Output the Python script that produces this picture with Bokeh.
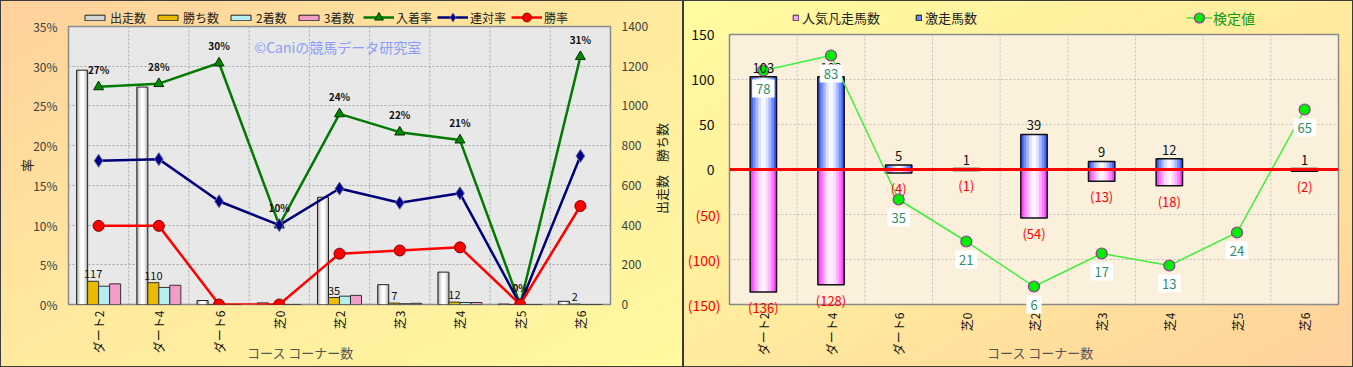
import math
from bokeh.plotting import figure
from bokeh.layouts import row, column
from bokeh.models import (Range1d, FactorRange, LinearAxis, FixedTicker, PrintfTickFormatter,
                          CustomJSTickFormatter, Legend, LegendItem, Label, LabelSet,
                          ColumnDataSource, Span, Plot, Text)
from bokeh.transform import dodge
from bokeh.core.properties import value
from bokeh.embed import file_html
from bokeh.resources import INLINE

FONT = "Noto Sans CJK JP"
HAS_FA = "frame_align" in Plot.properties()
TEXT_PROPS = Text.properties()
TEXT_BOX = "padding" in TEXT_PROPS and "background_fill_color" in TEXT_PROPS
W1, W2, H = 683, 670, 367

# ---------------- data ----------------
categories = ["ダート2", "ダート4", "ダート6", "芝0", "芝2", "芝3", "芝4", "芝5", "芝6"]

# left chart (counts on right axis, rates in %)
starts = [1180, 1095, 20, 8, 540, 100, 163, 2, 16]
wins = [117, 110, 0, 0, 35, 7, 12, 0, 2]
seconds = [92, 86, 0, 0, 42, 4, 10, 0, 0]
thirds = [104, 97, 0, 0, 46, 6, 10, 0, 0]
place_rate = [27.4, 27.8, 30.4, 10.0, 24.0, 21.7, 20.7, 0.0, 31.2]
rentai_rate = [18.1, 18.3, 13.0, 10.0, 14.6, 12.8, 14.0, 0.0, 18.7]
win_rate = [9.9, 9.9, 0.0, 0.0, 6.4, 6.8, 7.2, 0.0, 12.4]
rate_ticks = [0, 5, 10, 15, 20, 25, 30, 35]
count_ticks = [0, 200, 400, 600, 800, 1000, 1200, 1400]

# right chart
hot_horses = [103, 103, 5, 1, 39, 9, 12, 0, 1]
flop_horses = [-136, -128, -4, -1, -54, -13, -18, 0, -2]
kentei = [78, 83, 35, 21, 6, 17, 13, 24, 65]
pos_ticks = [0, 50, 100, 150]
neg_ticks = [-50, -100, -150]
grid_ticks = [-150, -100, -50, 0, 50, 100, 150]
Y2 = (-150, 150)   # main scale of the right chart
K2 = (0, 90)       # hidden scale of 検定値

# styles
C_START, C_WIN, C_SEC, C_THR = "#a0a0a0", "#eabb00", "#b4eef0", "#f29cc8"
C_PLACE, C_RENTAI, C_WRATE = "#007a00", "#00007a", "#ff0000"
M2L, M2R, M2T, M2B = 46, 15, 34, 63   # right chart borders


def no_align(f):
    if HAS_FA:
        f.frame_align = False


def clean_axis(ax, standoff, size="12px", color="#404040"):
    ax.axis_line_color = None
    ax.major_tick_line_color = None
    ax.minor_tick_line_color = None
    ax.major_tick_out = 0
    ax.minor_tick_out = 0
    ax.major_label_standoff = standoff
    ax.major_label_text_font = FONT
    ax.major_label_text_font_size = size
    ax.major_label_text_color = color
    ax.axis_label_text_font = FONT
    ax.axis_label_text_font_style = "normal"
    ax.axis_label_text_font_size = "13px"


def overlay_fig(width, height, on_top=False, x_range=None, y_range=None):
    f = figure(width=width, height=height, x_range=x_range or Range1d(0, 1),
               y_range=y_range or Range1d(0, 1),
               output_backend="svg", toolbar_location=None, min_border=0,
               x_axis_location=None, y_axis_location=None,
               border_fill_alpha=0, background_fill_alpha=0, outline_line_color=None)
    f.grid.visible = False
    f.styles = {("margin-top" if on_top else "margin-bottom"): "-%dpx" % height}
    no_align(f)
    return f


def legend(items, loc, gw, gh, fs, color="#222222", spacing=9, standoff=3):
    return Legend(items=items, orientation="horizontal", location=loc, glyph_width=gw,
                  glyph_height=gh, label_height=12, label_standoff=standoff, spacing=spacing,
                  padding=0, margin=0, label_text_font=FONT, label_text_font_size=fs,
                  label_text_color=color, border_line_alpha=0, background_fill_alpha=0)


OUT = dict(x=[-50], y=[-500])          # legend-only renderers: one point outside the view
OUT_L = dict(x=[-50, -40], y=[-500, -500])

# ---------------- left chart ----------------
src1 = ColumnDataSource(dict(
    cat=categories, starts=starts, wins=wins, seconds=seconds, thirds=thirds,
    place=place_rate, rentai=rentai_rate, win=win_rate,
    win_lbl=[str(w) if w > 0 else "" for w in wins],
    place_lbl=["%d%%" % round(v) for v in place_rate],
))

p1 = figure(width=W1, height=H, x_range=FactorRange(factors=categories),
            y_range=Range1d(0, 35), output_backend="svg", toolbar_location=None,
            min_border_left=68, min_border_right=73, min_border_top=26, min_border_bottom=63,
            border_fill_alpha=0, background_fill_color="#e8e8e8",
            outline_line_color="#8a8a8a", outline_line_width=1.5)
no_align(p1)
p1.extra_y_ranges = {"count": Range1d(0, 1400)}

p1.xgrid.visible = False
p1.ygrid.ticker = FixedTicker(ticks=rate_ticks)
p1.ygrid.grid_line_color = "#a9a9a9"
p1.ygrid.grid_line_dash = "2 2"
for i in range(1, len(categories)):
    p1.add_layout(Span(location=i, dimension="height", line_color="#a9a9a9",
                       line_dash="2 2", line_width=1, level="underlay"))

p1.yaxis.ticker = FixedTicker(ticks=rate_ticks)
p1.yaxis.formatter = PrintfTickFormatter(format="%d%%")
clean_axis(p1.yaxis[0], 11)
p1.yaxis.axis_label = "率"
p1.yaxis.axis_label_standoff = -6
p1.yaxis.axis_label_text_color = "#222222"

ax_r = LinearAxis(y_range_name="count", ticker=FixedTicker(ticks=count_ticks))
p1.add_layout(ax_r, "right")
clean_axis(ax_r, 11)

clean_axis(p1.xaxis[0], 6, color="#111111")
p1.xaxis.major_label_orientation = math.pi / 2
p1.xaxis.axis_label = "コース コーナー数" + "\u3000" * 6
p1.xaxis.axis_label_standoff = -13
p1.xaxis.axis_label_text_color = "#555555"

bw = 0.183
x0 = dodge("cat", -0.274, range=p1.x_range)
p1.vbar(x=x0, top="starts", width=bw, bottom=0, source=src1, y_range_name="count",
        fill_color=C_START, line_color=None)
for w, c in zip([0.15, 0.115, 0.08, 0.045], ["#c8c8c8", "#e2e2e2", "#f4f4f4", "#ffffff"]):
    p1.vbar(x=x0, top="starts", width=w, bottom=0, source=src1, y_range_name="count",
            fill_color=c, line_color=None)
p1.vbar(x=x0, top="starts", width=bw, bottom=0, source=src1, y_range_name="count",
        fill_alpha=0, line_color="#222222", line_width=1)

p1.vbar(x=dodge("cat", -0.091, range=p1.x_range), top="wins", width=bw, source=src1,
        y_range_name="count", fill_color=C_WIN, line_color="#333333", line_width=1)
p1.vbar(x=dodge("cat", 0.091, range=p1.x_range), top="seconds", width=bw, source=src1,
        y_range_name="count", fill_color=C_SEC, line_color="#333333", line_width=1)
p1.vbar(x=dodge("cat", 0.274, range=p1.x_range), top="thirds", width=bw, source=src1,
        y_range_name="count", fill_color=C_THR, line_color="#333333", line_width=1)

p1.line(x="cat", y="place", source=src1, line_color=C_PLACE, line_width=2.5)
p1.scatter(x="cat", y="place", source=src1, marker="triangle", size=10,
           fill_color="#008a00", line_color="#003300", line_width=1)
p1.line(x="cat", y="rentai", source=src1, line_color=C_RENTAI, line_width=2.5)
p1.scatter(x="cat", y="rentai", source=src1, marker="diamond", size=13,
           fill_color="#00008a", line_color="#6a6aa0", line_width=1)
p1.line(x="cat", y="win", source=src1, line_color=C_WRATE, line_width=2.5)
p1.scatter(x="cat", y="win", source=src1, marker="circle", size=11,
           fill_color="#ff0000", line_color="#800000", line_width=1)

p1.add_layout(LabelSet(x=dodge("cat", -0.091, range=p1.x_range), y="wins", text="win_lbl",
                       source=src1, y_range_name="count", y_offset=3, text_align="center",
                       text_baseline="bottom", text_font=value(FONT), text_font_size="11px",
                       text_color="#111111"))
p1.add_layout(LabelSet(x="cat", y="place", text="place_lbl", source=src1, y_offset=10,
                       text_align="center", text_baseline="bottom", text_font=value(FONT),
                       text_font_size="10px", text_font_style="bold", text_color="#111111"))

p1.add_layout(Label(x=186, y=258, x_units="screen", y_units="screen", text="©Caniの競馬データ研究室",
                    text_font=FONT, text_font_size="14px", text_color="#8c9cf8",
                    text_baseline="middle"))

# transparent full-size strip under the left chart: legend row and right-axis title
lf1 = overlay_fig(W1, H)
ox1 = 0 if HAS_FA else 68
lr_start = lf1.vbar(x=[-50], top=[-500], width=0.1, fill_color="#d4d4d4", line_color="#222222")
lr_win = lf1.vbar(x=[-50], top=[-500], width=0.1, fill_color=C_WIN, line_color="#222222")
lr_sec = lf1.vbar(x=[-50], top=[-500], width=0.1, fill_color=C_SEC, line_color="#222222")
lr_thr = lf1.vbar(x=[-50], top=[-500], width=0.1, fill_color=C_THR, line_color="#222222")
lr_pl = [lf1.line(line_color=C_PLACE, line_width=2.5, **OUT_L),
         lf1.scatter(marker="triangle", fill_color="#008a00", line_color="#003300", **OUT)]
lr_rt = [lf1.line(line_color=C_RENTAI, line_width=2.5, **OUT_L),
         lf1.scatter(marker="diamond", fill_color="#00008a", line_color="#6a6aa0", **OUT)]
lr_wr = [lf1.line(line_color=C_WRATE, line_width=2.5, **OUT_L),
         lf1.scatter(marker="circle", fill_color="#ff0000", line_color="#800000", **OUT)]
lf1.add_layout(legend([LegendItem(label="出走数", renderers=[lr_start]),
                       LegendItem(label="勝ち数", renderers=[lr_win]),
                       LegendItem(label="2着数", renderers=[lr_sec]),
                       LegendItem(label="3着数", renderers=[lr_thr])],
                      (82 - ox1, H - 26), 25, 7, "12px"))
lf1.add_layout(legend([LegendItem(label="入着率", renderers=lr_pl),
                       LegendItem(label="連対率", renderers=lr_rt),
                       LegendItem(label="勝率", renderers=lr_wr)],
                      (363 - ox1, H - 28), 31, 22, "12px", spacing=5, standoff=2))
lf1.add_layout(Label(x=661 - ox1, y=H - 168, x_units="screen", y_units="screen",
                     text="出走数　勝ち数", angle=math.pi / 2, text_font=FONT,
                     text_font_size="13px", text_color="#222222", text_align="center",
                     text_baseline="middle"))

left_panel = column(lf1, p1, styles={
    "background": "linear-gradient(to bottom right, #ffd09b 0%, #ffe89e 45%, #fffaa0 100%)",
    "box-shadow": "inset 0 0 0 1px #3c3c3c"})

# ---------------- right chart ----------------
n = len(categories)
src2 = ColumnDataSource(dict(
    cat=categories, xi=[i + 0.5 for i in range(n)],
    hot=hot_horses, flop=flop_horses, kentei=kentei,
    hot_lbl=[str(v) if v != 0 else "" for v in hot_horses],
    flop_lbl=["(%d)" % (-v) if v != 0 else "" for v in flop_horses],
    k_lbl=[str(v) for v in kentei],
))

p2 = figure(width=W2, height=H, x_range=FactorRange(factors=categories),
            y_range=Range1d(*Y2), output_backend="svg", toolbar_location=None,
            min_border_left=M2L, min_border_right=M2R, min_border_top=M2T, min_border_bottom=M2B,
            border_fill_alpha=0, background_fill_color="#fbf0dc",
            outline_line_color="#8a8a8a", outline_line_width=1.5)
no_align(p2)
p2.extra_y_ranges = {"k": Range1d(*K2)}

p2.xgrid.visible = False
p2.ygrid.ticker = FixedTicker(ticks=grid_ticks)
p2.ygrid.grid_line_color = "#c4c0b8"
p2.ygrid.grid_line_dash = "2 2"
for i in range(1, n):
    p2.add_layout(Span(location=i, dimension="height", line_color="#c4c0b8",
                       line_dash="2 2", line_width=1, level="underlay"))

# positive tick labels (black) next to the frame; negative ones (red, bracketed) drawn back
# into the same column by a second axis with a negative standoff
p2.yaxis.ticker = FixedTicker(ticks=pos_ticks)
clean_axis(p2.yaxis[0], 15, size="14px", color="#111111")
ax_neg = LinearAxis(ticker=FixedTicker(ticks=neg_ticks),
                    formatter=CustomJSTickFormatter(code="return '(' + (-tick).toFixed(0) + ')';"))
clean_axis(ax_neg, -32, size="14px", color="#ff0000")
p2.add_layout(ax_neg, "left")

clean_axis(p2.xaxis[0], 8, color="#111111")
p2.xaxis.major_label_orientation = math.pi / 2
p2.xaxis.axis_label = "\u3000コース コーナー数"
p2.xaxis.axis_label_standoff = -15
p2.xaxis.axis_label_text_color = "#555555"

rw = 0.39
p2.vbar(x="cat", top="hot", bottom=0, width=rw, source=src2, fill_color="#3f5cff", line_color=None)
for w, c in zip([0.31, 0.23, 0.15, 0.07], ["#768dff", "#a9b8ff", "#d8dfff", "#f7f8ff"]):
    p2.vbar(x="cat", top="hot", bottom=0, width=w, source=src2, fill_color=c, line_color=None)
p2.vbar(x="cat", top="hot", bottom=0, width=rw, source=src2, fill_alpha=0,
        line_color="#111111", line_width=1.5)

p2.vbar(x="cat", top=0, bottom="flop", width=rw, source=src2, fill_color="#ff40ff", line_color=None)
for w, c in zip([0.31, 0.23, 0.15, 0.07], ["#ff7cff", "#ffaeff", "#ffd8ff", "#fff4ff"]):
    p2.vbar(x="cat", top=0, bottom="flop", width=w, source=src2, fill_color=c, line_color=None)
p2.vbar(x="cat", top=0, bottom="flop", width=rw, source=src2, fill_alpha=0,
        line_color="#111111", line_width=1.5)

p2.add_layout(Span(location=0, dimension="width", line_color="#ff0000", line_width=3))

p2.line(x="cat", y="kentei", source=src2, y_range_name="k", line_color="#3cf03c", line_width=1.5)
p2.scatter(x="cat", y="kentei", source=src2, y_range_name="k", marker="circle", size=11,
           fill_color="#00ee00", line_color="#993399", line_width=1.2)

p2.add_layout(LabelSet(x="cat", y="hot", text="hot_lbl", source=src2, y_offset=4,
                       text_align="center", text_baseline="bottom", text_font=value(FONT),
                       text_font_size="13px", text_color="#111111"))

# transparent strip on top of the right chart, with the same scales stretched over the
# whole canvas, so that labels may run over the frame edge as in the original
fw2, fh2 = W2 - M2L - M2R, H - M2T - M2B
ux, uy, uk = n / fw2, (Y2[1] - Y2[0]) / fh2, (K2[1] - K2[0]) / fh2
lf2 = overlay_fig(W2, H, on_top=True,
                  x_range=Range1d(-M2L * ux, n + M2R * ux),
                  y_range=Range1d(Y2[0] - M2B * uy, Y2[1] + M2T * uy))
lf2.extra_y_ranges = {"k": Range1d(K2[0] - M2B * uk, K2[1] + M2T * uk)}

lf2.add_layout(LabelSet(x="xi", y="flop", text="flop_lbl", source=src2, y_offset=-6,
                        text_align="center", text_baseline="top", text_font=value(FONT),
                        text_font_size="13px", text_color="#ff0000"))
if TEXT_BOX:
    lf2.text(x="xi", y="kentei", text="k_lbl", source=src2, y_range_name="k", y_offset=18,
             text_align="center", text_baseline="middle", text_font=value(FONT),
             text_font_size=value("13px"), text_color="#2e8f66",
             background_fill_color="#ffffff", padding=4)
else:
    lf2.add_layout(LabelSet(x="xi", y="kentei", text="k_lbl", source=src2, y_range_name="k",
                            y_offset=-18, text_align="center", text_baseline="middle",
                            text_font=value(FONT), text_font_size="13px",
                            text_color="#2e8f66", background_fill_color="#ffffff"))

ox2 = 0 if HAS_FA else 46
rr_pink = lf2.vbar(x=[-50], top=[-500], width=0.1, fill_color="#ff9cff", line_color="#333333")
rr_blue = lf2.vbar(x=[-50], top=[-500], width=0.1, fill_color="#6f86ff", line_color="#111111")
rr_k = [lf2.line(line_color="#3cf03c", line_width=1.5, **OUT_L),
        lf2.scatter(marker="circle", fill_color="#00ee00", line_color="#993399",
                    line_width=1.2, **OUT)]
lf2.add_layout(legend([LegendItem(label="人気凡走馬数", renderers=[rr_pink]),
                       LegendItem(label="激走馬数", renderers=[rr_blue])],
                      (109 - ox2, H - 27), 7, 7, "13px", spacing=35, standoff=3))
lf2.add_layout(legend([LegendItem(label="検定値", renderers=rr_k)],
                      (503 - ox2, H - 30), 26, 25, "14px", color="#129912", standoff=1))

right_panel = column(p2, lf2, styles={
    "background": "linear-gradient(to bottom right, #fffca0 0%, #ffeb9e 50%, #ffd09b 100%)",
    "box-shadow": "inset 0 0 0 1px #3c3c3c"})

layout = row(left_panel, right_panel)
open("out.html", "w").write(file_html(layout, INLINE))
